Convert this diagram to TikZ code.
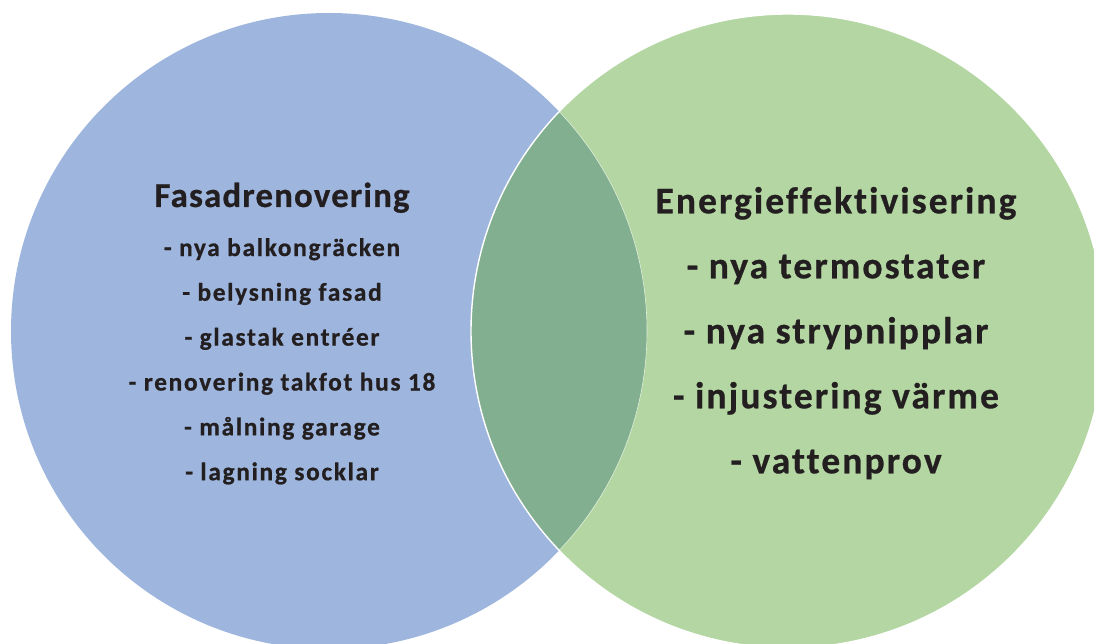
\documentclass[tikz,border=0pt]{standalone}
\usepackage{fontspec}
\setmainfont{Carlito}
\newfontfamily\lfont[LetterSpace=6.6,FakeBold=0.7,Ligatures={NoCommon}]{Carlito}
\newfontfamily\ltfont[LetterSpace=3.4,FakeBold=0.7,Ligatures={NoCommon}]{Carlito}
\newfontfamily\rfont[LetterSpace=5.6,FakeBold=0.7,Ligatures={NoCommon}]{Carlito}
\definecolor{cblue}{HTML}{9EB6DE}
\definecolor{cgreen}{HTML}{B3D6A2}
\definecolor{clens}{HTML}{83AF91}
\definecolor{ctext}{HTML}{231F20}
\tikzset{
  lbl/.style={anchor=base, inner sep=0pt, text=ctext, font=\lfont\bfseries\fontsize{25.4}{30}\selectfont},
  ltitle/.style={lbl, font=\ltfont\bfseries\fontsize{34.8}{40}\selectfont},
  rlbl/.style={lbl, font=\rfont\bfseries\fontsize{37.5}{44}\selectfont}
}
\begin{document}
\begin{tikzpicture}[x=1pt,y=-1pt]
\useasboundingbox (0,0) rectangle (1094,644);
\begin{scope}
\clip (0,0) rectangle (1094,644);
\coordinate (cl) at (329,331);
\coordinate (cr) at (788,331);
\fill[cblue] (cl) circle[radius=318];
\fill[cgreen] (cr) circle[radius=317];
\begin{scope}
\clip (cr) circle[radius=317];
\fill[clens] (cl) circle[radius=318];
\draw[white!60!cgreen, line width=0.6pt] (cl) circle[radius=318];
\end{scope}
\draw[white, line width=1.4pt] (cr) circle[radius=317];
\end{scope}
\node[ltitle] (t1) at (282,207) {Fasadrenovering};
\node[lbl] (a1) at (282,256) {- nya balkongräcken};
\node[lbl] (a2) at (282,300.7) {- belysning fasad};
\node[lbl] (a3) at (282,345.6) {- glastak entréer};
\node[lbl] (a4) at (282,390.5) {- renovering takfot hus 18};
\node[lbl] (a5) at (282,435.4) {- målning garage};
\node[lbl] (a6) at (282,480.2) {- lagning socklar};
\node[rlbl] (t2) at (836,213.3) {Energieffektivisering};
\node[rlbl] (b1) at (836,278.3) {- nya termostater};
\node[rlbl] (b2) at (836,343.3) {- nya strypnipplar};
\node[rlbl] (b3) at (836,408.3) {- injustering värme};
\node[rlbl] (b4) at (836,473.3) {- vattenprov};
\end{tikzpicture}
\end{document}
